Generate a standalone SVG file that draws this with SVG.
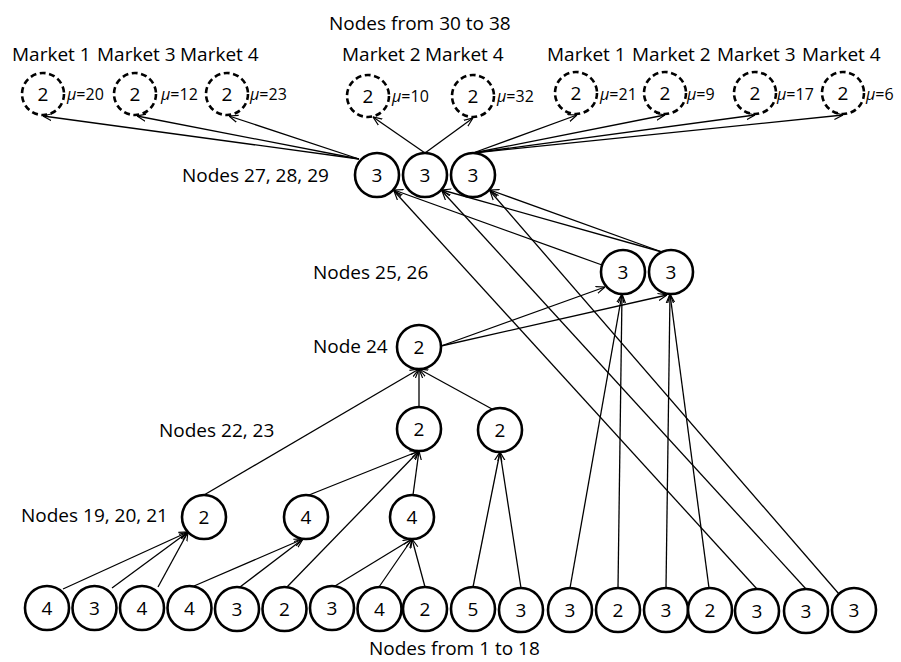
<svg xmlns="http://www.w3.org/2000/svg" width="901" height="662" viewBox="0 0 901 662">
<style>
text{font-family:"Open Sans","Liberation Sans",sans-serif;fill:#000}
.lbl{font-size:19px}
.num{font-size:19px;text-anchor:middle}
.mu{font-size:16px}
.n{fill:#fff;stroke:#000;stroke-width:2.6}
.d{fill:#fff;stroke:#000;stroke-width:2.6;stroke-dasharray:6 3.5}
.e{stroke:#000;stroke-width:1.3;fill:none;marker-end:url(#arr)}
</style>
<defs>
<marker id="arr" viewBox="0 0 10 10" refX="10" refY="5" markerWidth="9" markerHeight="9" markerUnits="userSpaceOnUse" orient="auto">
<path d="M0,1 L10,5 L0,9" fill="none" stroke="#000" stroke-width="1.3"/>
</marker>
</defs>
<rect width="901" height="662" fill="#fff"/>
<g id="labels">
<text class="lbl" x="329" y="30">Nodes from 30 to 38</text>
<text class="lbl" x="12" y="61">Market 1</text>
<text class="lbl" x="97" y="61">Market 3</text>
<text class="lbl" x="180" y="61">Market 4</text>
<text class="lbl" x="342" y="61">Market 2</text>
<text class="lbl" x="425" y="61">Market 4</text>
<text class="lbl" x="547" y="61">Market 1</text>
<text class="lbl" x="632" y="61">Market 2</text>
<text class="lbl" x="717" y="61">Market 3</text>
<text class="lbl" x="802" y="61">Market 4</text>
<text class="lbl" x="182" y="182">Nodes 27, 28, 29</text>
<text class="lbl" x="313" y="279">Nodes 25, 26</text>
<text class="lbl" x="313" y="353">Node 24</text>
<text class="lbl" x="159" y="437">Nodes 22, 23</text>
<text class="lbl" x="21" y="522">Nodes 19, 20, 21</text>
<text class="lbl" x="369" y="655">Nodes from 1 to 18</text>
</g>
<g id="markets">
<g id="n30"><circle class="d" cx="43" cy="94" r="21"/><text class="num" x="43" y="101">2</text><text class="mu" x="67" y="100"><tspan font-style="italic">μ</tspan>=20</text></g>
<g id="n31"><circle class="d" cx="135" cy="94" r="21"/><text class="num" x="135" y="101">2</text><text class="mu" x="161" y="100"><tspan font-style="italic">μ</tspan>=12</text></g>
<g id="n32"><circle class="d" cx="227" cy="94" r="21"/><text class="num" x="227" y="101">2</text><text class="mu" x="250" y="100"><tspan font-style="italic">μ</tspan>=23</text></g>
<g id="n33"><circle class="d" cx="368" cy="96" r="21"/><text class="num" x="368" y="103">2</text><text class="mu" x="392" y="102"><tspan font-style="italic">μ</tspan>=10</text></g>
<g id="n34"><circle class="d" cx="473" cy="96" r="21"/><text class="num" x="473" y="103">2</text><text class="mu" x="497" y="102"><tspan font-style="italic">μ</tspan>=32</text></g>
<g id="n35"><circle class="d" cx="576" cy="93" r="21"/><text class="num" x="576" y="100">2</text><text class="mu" x="600" y="100"><tspan font-style="italic">μ</tspan>=21</text></g>
<g id="n36"><circle class="d" cx="665" cy="93" r="21"/><text class="num" x="665" y="100">2</text><text class="mu" x="687" y="100"><tspan font-style="italic">μ</tspan>=9</text></g>
<g id="n37"><circle class="d" cx="755" cy="93" r="21"/><text class="num" x="755" y="100">2</text><text class="mu" x="777" y="100"><tspan font-style="italic">μ</tspan>=17</text></g>
<g id="n38"><circle class="d" cx="843" cy="93" r="21"/><text class="num" x="843" y="100">2</text><text class="mu" x="866" y="100"><tspan font-style="italic">μ</tspan>=6</text></g>
</g>
<g id="nodes">
<g id="n27"><circle class="n" cx="377" cy="175" r="22"/><text class="num" x="377" y="182">3</text></g>
<g id="n28"><circle class="n" cx="425" cy="175" r="22"/><text class="num" x="425" y="182">3</text></g>
<g id="n29"><circle class="n" cx="473" cy="175" r="22"/><text class="num" x="473" y="182">3</text></g>
<g id="n25"><circle class="n" cx="623" cy="272" r="22"/><text class="num" x="623" y="279">3</text></g>
<g id="n26"><circle class="n" cx="671" cy="272" r="22"/><text class="num" x="671" y="279">3</text></g>
<g id="n24"><circle class="n" cx="419" cy="347" r="22"/><text class="num" x="419" y="354">2</text></g>
<g id="n22"><circle class="n" cx="419" cy="429" r="22"/><text class="num" x="419" y="436">2</text></g>
<g id="n23"><circle class="n" cx="500" cy="430" r="22"/><text class="num" x="500" y="437">2</text></g>
<g id="n19"><circle class="n" cx="204" cy="517" r="22"/><text class="num" x="204" y="524">2</text></g>
<g id="n20"><circle class="n" cx="306" cy="517" r="22"/><text class="num" x="306" y="524">4</text></g>
<g id="n21"><circle class="n" cx="412" cy="517" r="22"/><text class="num" x="412" y="524">4</text></g>
<g id="n1"><circle class="n" cx="47" cy="608" r="22"/><text class="num" x="47" y="615">4</text></g>
<g id="n2"><circle class="n" cx="94.5" cy="608" r="22"/><text class="num" x="94.5" y="615">3</text></g>
<g id="n3"><circle class="n" cx="142" cy="608" r="22"/><text class="num" x="142" y="615">4</text></g>
<g id="n4"><circle class="n" cx="189.5" cy="608" r="22"/><text class="num" x="189.5" y="615">4</text></g>
<g id="n5"><circle class="n" cx="237" cy="609" r="22"/><text class="num" x="237" y="616">3</text></g>
<g id="n6"><circle class="n" cx="284.5" cy="609" r="22"/><text class="num" x="284.5" y="616">2</text></g>
<g id="n7"><circle class="n" cx="332" cy="608" r="22"/><text class="num" x="332" y="615">3</text></g>
<g id="n8"><circle class="n" cx="379.5" cy="609" r="22"/><text class="num" x="379.5" y="616">4</text></g>
<g id="n9"><circle class="n" cx="425" cy="609" r="22"/><text class="num" x="425" y="616">2</text></g>
<g id="n10"><circle class="n" cx="473" cy="609" r="22"/><text class="num" x="473" y="616">5</text></g>
<g id="n11"><circle class="n" cx="521" cy="610" r="22"/><text class="num" x="521" y="617">3</text></g>
<g id="n12"><circle class="n" cx="570" cy="610" r="22"/><text class="num" x="570" y="617">3</text></g>
<g id="n13"><circle class="n" cx="618" cy="610" r="22"/><text class="num" x="618" y="617">2</text></g>
<g id="n14"><circle class="n" cx="666" cy="610" r="22"/><text class="num" x="666" y="617">3</text></g>
<g id="n15"><circle class="n" cx="710" cy="610" r="22"/><text class="num" x="710" y="617">2</text></g>
<g id="n16"><circle class="n" cx="757" cy="611" r="22"/><text class="num" x="757" y="618">3</text></g>
<g id="n17"><circle class="n" cx="806" cy="611" r="22"/><text class="num" x="806" y="618">3</text></g>
<g id="n18"><circle class="n" cx="854" cy="610" r="22"/><text class="num" x="854" y="617">3</text></g>
</g>
<g id="connectors">
<line class="e" x1="359" y1="159" x2="43" y2="116"/>
<line class="e" x1="359" y1="159" x2="137" y2="116"/>
<line class="e" x1="359" y1="159" x2="229" y2="116"/>
<line class="e" x1="425" y1="153" x2="373" y2="117"/>
<line class="e" x1="425" y1="153" x2="473" y2="118"/>
<line class="e" x1="473" y1="153" x2="577" y2="115"/>
<line class="e" x1="473" y1="153" x2="665" y2="115"/>
<line class="e" x1="473" y1="153" x2="755" y2="115"/>
<line class="e" x1="473" y1="153" x2="843" y2="115"/>
<line class="e" x1="602" y1="265" x2="394" y2="190"/>
<line class="e" x1="662" y1="252" x2="442" y2="190"/>
<line class="e" x1="662" y1="252" x2="490" y2="190"/>
<line class="e" x1="757" y1="589" x2="394" y2="191"/>
<line class="e" x1="806" y1="589" x2="442" y2="191"/>
<line class="e" x1="839" y1="594" x2="490" y2="191"/>
<line class="e" x1="441" y1="346" x2="605" y2="287"/>
<line class="e" x1="441" y1="346" x2="667" y2="295"/>
<line class="e" x1="570" y1="588" x2="622" y2="294"/>
<line class="e" x1="618" y1="588" x2="622" y2="294"/>
<line class="e" x1="666" y1="588" x2="670" y2="294"/>
<line class="e" x1="709" y1="588" x2="670" y2="294"/>
<line class="e" x1="204" y1="495" x2="419" y2="369"/>
<line class="e" x1="419" y1="407" x2="419" y2="369"/>
<line class="e" x1="492" y1="409" x2="419" y2="369"/>
<line class="e" x1="309" y1="495" x2="419" y2="451"/>
<line class="e" x1="287" y1="587" x2="419" y2="451"/>
<line class="e" x1="413" y1="495" x2="419" y2="451"/>
<line class="e" x1="473" y1="587" x2="500" y2="452"/>
<line class="e" x1="521" y1="588" x2="500" y2="452"/>
<line class="e" x1="63" y1="589" x2="188" y2="532"/>
<line class="e" x1="112" y1="588" x2="188" y2="532"/>
<line class="e" x1="158" y1="587" x2="188" y2="532"/>
<line class="e" x1="194" y1="586" x2="303" y2="539"/>
<line class="e" x1="240" y1="587" x2="303" y2="539"/>
<line class="e" x1="335" y1="586" x2="412" y2="539"/>
<line class="e" x1="379" y1="587" x2="412" y2="539"/>
<line class="e" x1="425" y1="587" x2="412" y2="539"/>
</g>
</svg>
